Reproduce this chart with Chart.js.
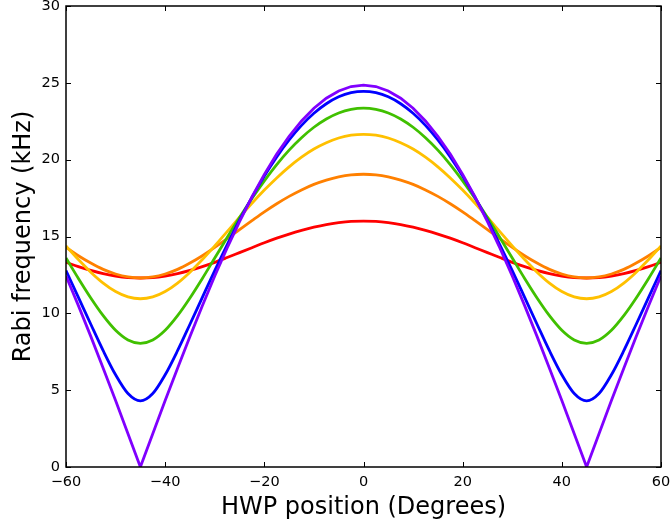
<!DOCTYPE html>
<html><head><meta charset="utf-8">
<script src="https://cdn.jsdelivr.net/npm/chart.js@4"></script>
<style>
html,body{margin:0;padding:0;overflow:hidden;width:670px;height:527px;background:#fff}
#wrap{position:absolute;left:0;top:-10px;width:690px;height:545px}
canvas{display:block}
</style></head><body>
<div id="wrap"><canvas id="c" width="690" height="545"></canvas></div>
<script>
const hwp = [-60,-57.5,-55,-52.5,-50,-47.5,-45,-42.5,-40,-37.5,-35,-32.5,-30,-27.5,-25,-22.5,-20,-17.5,-15,-12.5,-10,-7.5,-5,-2.5,0,2.5,5,7.5,10,12.5,15,17.5,20,22.5,25,27.5,30,32.5,35,37.5,40,42.5,45,47.5,50,52.5,55,57.5,60];
const red = [13.32,13.04,12.79,12.58,12.43,12.33,12.30,12.33,12.43,12.58,12.79,13.04,13.32,13.63,13.95,14.27,14.59,14.89,15.16,15.40,15.61,15.78,15.90,15.98,16.00,15.98,15.90,15.78,15.61,15.40,15.16,14.89,14.59,14.27,13.95,13.63,13.32,13.04,12.79,12.58,12.43,12.33,12.30,12.33,12.43,12.58,12.79,13.04,13.32];
const orange = [14.29,13.75,13.27,12.86,12.56,12.37,12.30,12.37,12.56,12.86,13.27,13.75,14.29,14.86,15.45,16.03,16.60,17.13,17.61,18.03,18.39,18.67,18.88,19.01,19.05,19.01,18.88,18.67,18.39,18.03,17.61,17.13,16.60,16.03,15.45,14.86,14.29,13.75,13.27,12.86,12.56,12.37,12.30,12.37,12.56,12.86,13.27,13.75,14.29];
const yellow = [14.39,13.50,12.68,11.97,11.42,11.07,10.95,11.07,11.42,11.97,12.68,13.50,14.39,15.32,16.25,17.16,18.02,18.81,19.53,20.16,20.69,21.10,21.41,21.59,21.65,21.59,21.41,21.10,20.69,20.16,19.53,18.81,18.02,17.16,16.25,15.32,14.39,13.50,12.68,11.97,11.42,11.07,10.95,11.07,11.42,11.97,12.68,13.50,14.39];
const green = [13.60,12.27,11.00,9.85,8.90,8.27,8.05,8.27,8.90,9.85,11.00,12.27,13.60,14.93,16.23,17.47,18.62,19.68,20.62,21.43,22.11,22.65,23.04,23.27,23.35,23.27,23.04,22.65,22.11,21.43,20.62,19.68,18.62,17.47,16.23,14.93,13.60,12.27,11.00,9.85,8.90,8.27,8.05,8.27,8.90,9.85,11.00,12.27,13.60];
const blue = [12.78,11.04,9.29,7.57,6.00,4.78,4.30,4.78,6.00,7.57,9.29,11.04,12.78,14.46,16.06,17.55,18.93,20.18,21.28,22.23,23.02,23.64,24.09,24.36,24.45,24.36,24.09,23.64,23.02,22.23,21.28,20.18,18.93,17.55,16.06,14.46,12.78,11.04,9.29,7.57,6.00,4.78,4.30,4.78,6.00,7.57,9.29,11.04,12.78];
const purple = [12.43,10.50,8.50,6.43,4.32,2.17,0,2.17,4.32,6.43,8.50,10.50,12.43,14.25,15.97,17.57,19.04,20.36,21.52,22.52,23.35,24.00,24.47,24.76,24.85,24.76,24.47,24.00,23.35,22.52,21.52,20.36,19.04,17.57,15.97,14.25,12.43,10.50,8.50,6.43,4.32,2.17,0,2.17,4.32,6.43,8.50,10.50,12.43];
const xTicks = [-60,-40,-20,0,20,40,60];
const yTicks = [0,5,10,15,20,25,30];
const xTitle = 'HWP position (Degrees)';
const yTitle = 'Rabi frequency (kHz)';

const series = [
  {data: purple, color: '#8000ff', linear: true},
  {data: blue, color: '#0000ff'},
  {data: green, color: '#40c000'},
  {data: yellow, color: '#ffc000'},
  {data: orange, color: '#ff8000'},
  {data: red, color: '#ff0000'}
];

const fmt = v => (v < 0 ? '\u2212' + Math.abs(v) : String(v));

const framePlugin = {
  id: 'frame',
  afterDatasetsDraw(chart) {
    const {ctx, chartArea: {left, right, top, bottom}, scales: {x, y}} = chart;
    ctx.save();
    ctx.strokeStyle = '#000';
    ctx.lineWidth = 1;
    const L = 5;
    ctx.beginPath();
    xTicks.forEach(v => {
      const px = Math.round(x.getPixelForValue(v)) + 0.5;
      ctx.moveTo(px, bottom); ctx.lineTo(px, bottom - L);
      ctx.moveTo(px, top); ctx.lineTo(px, top + L);
    });
    yTicks.forEach(v => {
      const py = Math.round(y.getPixelForValue(v)) + 0.5;
      ctx.moveTo(left, py); ctx.lineTo(left + L, py);
      ctx.moveTo(right, py); ctx.lineTo(right - L, py);
    });
    ctx.stroke();
    ctx.lineWidth = 1.5;
    ctx.strokeRect(left, top, right - left, bottom - top);
    ctx.restore();
  }
};

new Chart(document.getElementById('c'), {
  type: 'line',
  data: {
    datasets: series.map(s => ({
      data: s.data.map((v, i) => ({x: hwp[i], y: v})),
      borderColor: s.color,
      backgroundColor: s.color,
      borderWidth: 2.8,
      pointRadius: 0,
      fill: false,
      cubicInterpolationMode: s.linear ? 'default' : 'monotone',
      tension: 0
    }))
  },
  options: {
    responsive: false,
    devicePixelRatio: 1,
    animation: false,
    events: [],
    layout: {padding: {top: 16, right: 29, left: 0, bottom: 0}},
    plugins: {legend: {display: false}, tooltip: {enabled: false}},
    scales: {
      x: {
        type: 'linear', min: -60, max: 60,
        afterFit(s) { s.height = 68; },
        afterBuildTicks(s) { s.ticks = xTicks.map(v => ({value: v})); },
        grid: {display: false, drawTicks: false},
        border: {display: false},
        ticks: {color: '#000', font: {family: 'DejaVu Sans', size: 14.5}, padding: 7, maxRotation: 0, callback: v => fmt(v)},
        title: {display: true, text: xTitle, color: '#000', font: {family: 'DejaVu Sans', size: 24}, padding: {top: 0, bottom: 12.6}}
      },
      y: {
        type: 'linear', min: 0, max: 30,
        afterFit(s) { s.width = 66; },
        afterBuildTicks(s) { s.ticks = yTicks.map(v => ({value: v})); },
        grid: {display: false, drawTicks: false},
        border: {display: false},
        ticks: {color: '#000', font: {family: 'DejaVu Sans', size: 14.5}, padding: 6, callback: v => fmt(v)},
        title: {display: true, text: yTitle, color: '#000', font: {family: 'DejaVu Sans', size: 24}, padding: {top: 9.6, bottom: 0}}
      }
    }
  },
  plugins: [framePlugin]
});
</script>
</body></html>
